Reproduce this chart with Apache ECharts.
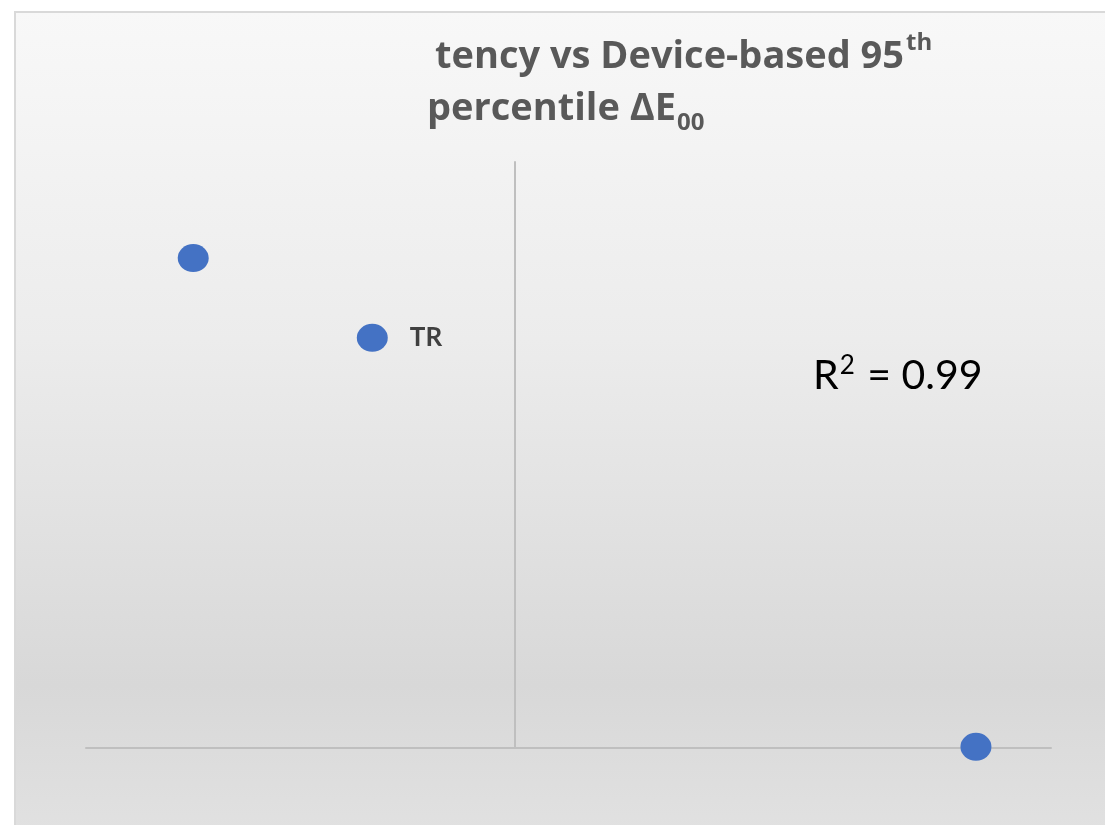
<!DOCTYPE html>
<html>
<head>
<meta charset="utf-8">
<script src="https://cdn.jsdelivr.net/npm/echarts@6/dist/echarts.min.js"></script>
<style>
  html, body { margin: 0; padding: 0; background: #fff; }
  #main-chart { width: 1105px; height: 825px; }
</style>
</head>
<body>
<div id="main-chart"></div>
<script>
// 数据
const pointNames = ['', 'TR', ''];
const xValues = [-3.0, -1.33, 4.3];
const yValues = [8.36, 7.0, 0.02];
const rSquared = '0.99';

const chart = echarts.init(document.getElementById('main-chart'));

const seriesData = xValues.map((x, i) => ({
    value: [x, yValues[i]],
    name: pointNames[i],
    label: { show: pointNames[i] !== '' }
}));

chart.setOption({
    backgroundColor: '#ffffff',
    animation: false,
    title: {
        text: '{a1|tency vs Device-based 95}{sup|th}\n{a|percentile ΔE}{sub|00}',
        left: 422,
        top: 26,
        textStyle: {
            rich: {
                a1: { fontFamily: 'Open Sans', fontWeight: 'bold', fontSize: 38, color: '#595959', lineHeight: 52, padding: [0, 0, 0, 8] },
                a: { fontFamily: 'Open Sans', fontWeight: 'bold', fontSize: 38, color: '#595959', lineHeight: 52 },
                sup: { fontFamily: 'Open Sans', fontWeight: 'bold', fontSize: 24, color: '#595959', lineHeight: 52, verticalAlign: 'top', padding: [0, 0, 0, 2] },
                sub: { fontFamily: 'Open Sans', fontWeight: 'bold', fontSize: 24, color: '#595959', lineHeight: 52, verticalAlign: 'bottom', padding: [0, 0, 0, 1] }
            }
        }
    },
    graphic: [
        {
            type: 'rect',
            z: -10,
            silent: true,
            shape: { x: 15, y: 12, width: 1100, height: 820 },
            style: {
                fill: new echarts.graphic.LinearGradient(0, 0, 0, 1, [
                    { offset: 0, color: '#f8f8f8' },
                    { offset: 0.4, color: '#ececec' },
                    { offset: 0.82, color: '#d8d8d8' },
                    { offset: 1, color: '#e1e1e1' }
                ]),
                stroke: '#d9d9d9',
                lineWidth: 2
            }
        },
        {
            type: 'text',
            left: 813,
            top: 351,
            style: {
                text: '{r|R}{s|2}{r| = ' + rSquared + '}',
                rich: {
                    r: { fontFamily: 'Lato', fontSize: 41, color: '#1a1a1a', lineHeight: 50 },
                    s: { fontFamily: 'Lato', fontSize: 26, color: '#1a1a1a', lineHeight: 50, verticalAlign: 'top', padding: [2, 2, 0, 1] }
                }
            }
        }
    ],
    grid: { left: 86, right: 54, top: 162, bottom: 77 },
    xAxis: {
        type: 'value',
        min: -4,
        max: 5,
        axisLine: { show: true, lineStyle: { color: '#bfbfbf', width: 2 } },
        axisTick: { show: false },
        axisLabel: { show: false },
        splitLine: { show: false }
    },
    yAxis: {
        type: 'value',
        min: 0,
        max: 10,
        axisLine: { show: true, onZero: true, lineStyle: { color: '#bfbfbf', width: 2 } },
        axisTick: { show: false },
        axisLabel: { show: false },
        splitLine: { show: false }
    },
    series: [{
        type: 'scatter',
        symbol: 'circle',
        symbolSize: [31, 28],
        clip: false,
        itemStyle: { color: '#4472c4', opacity: 1 },
        label: {
            position: 'right',
            distance: 22,
            formatter: '{b}',
            fontFamily: 'Lato',
            fontWeight: 'bold',
            fontSize: 26,
            color: '#404040'
        },
        data: seriesData
    }]
});
</script>
</body>
</html>
